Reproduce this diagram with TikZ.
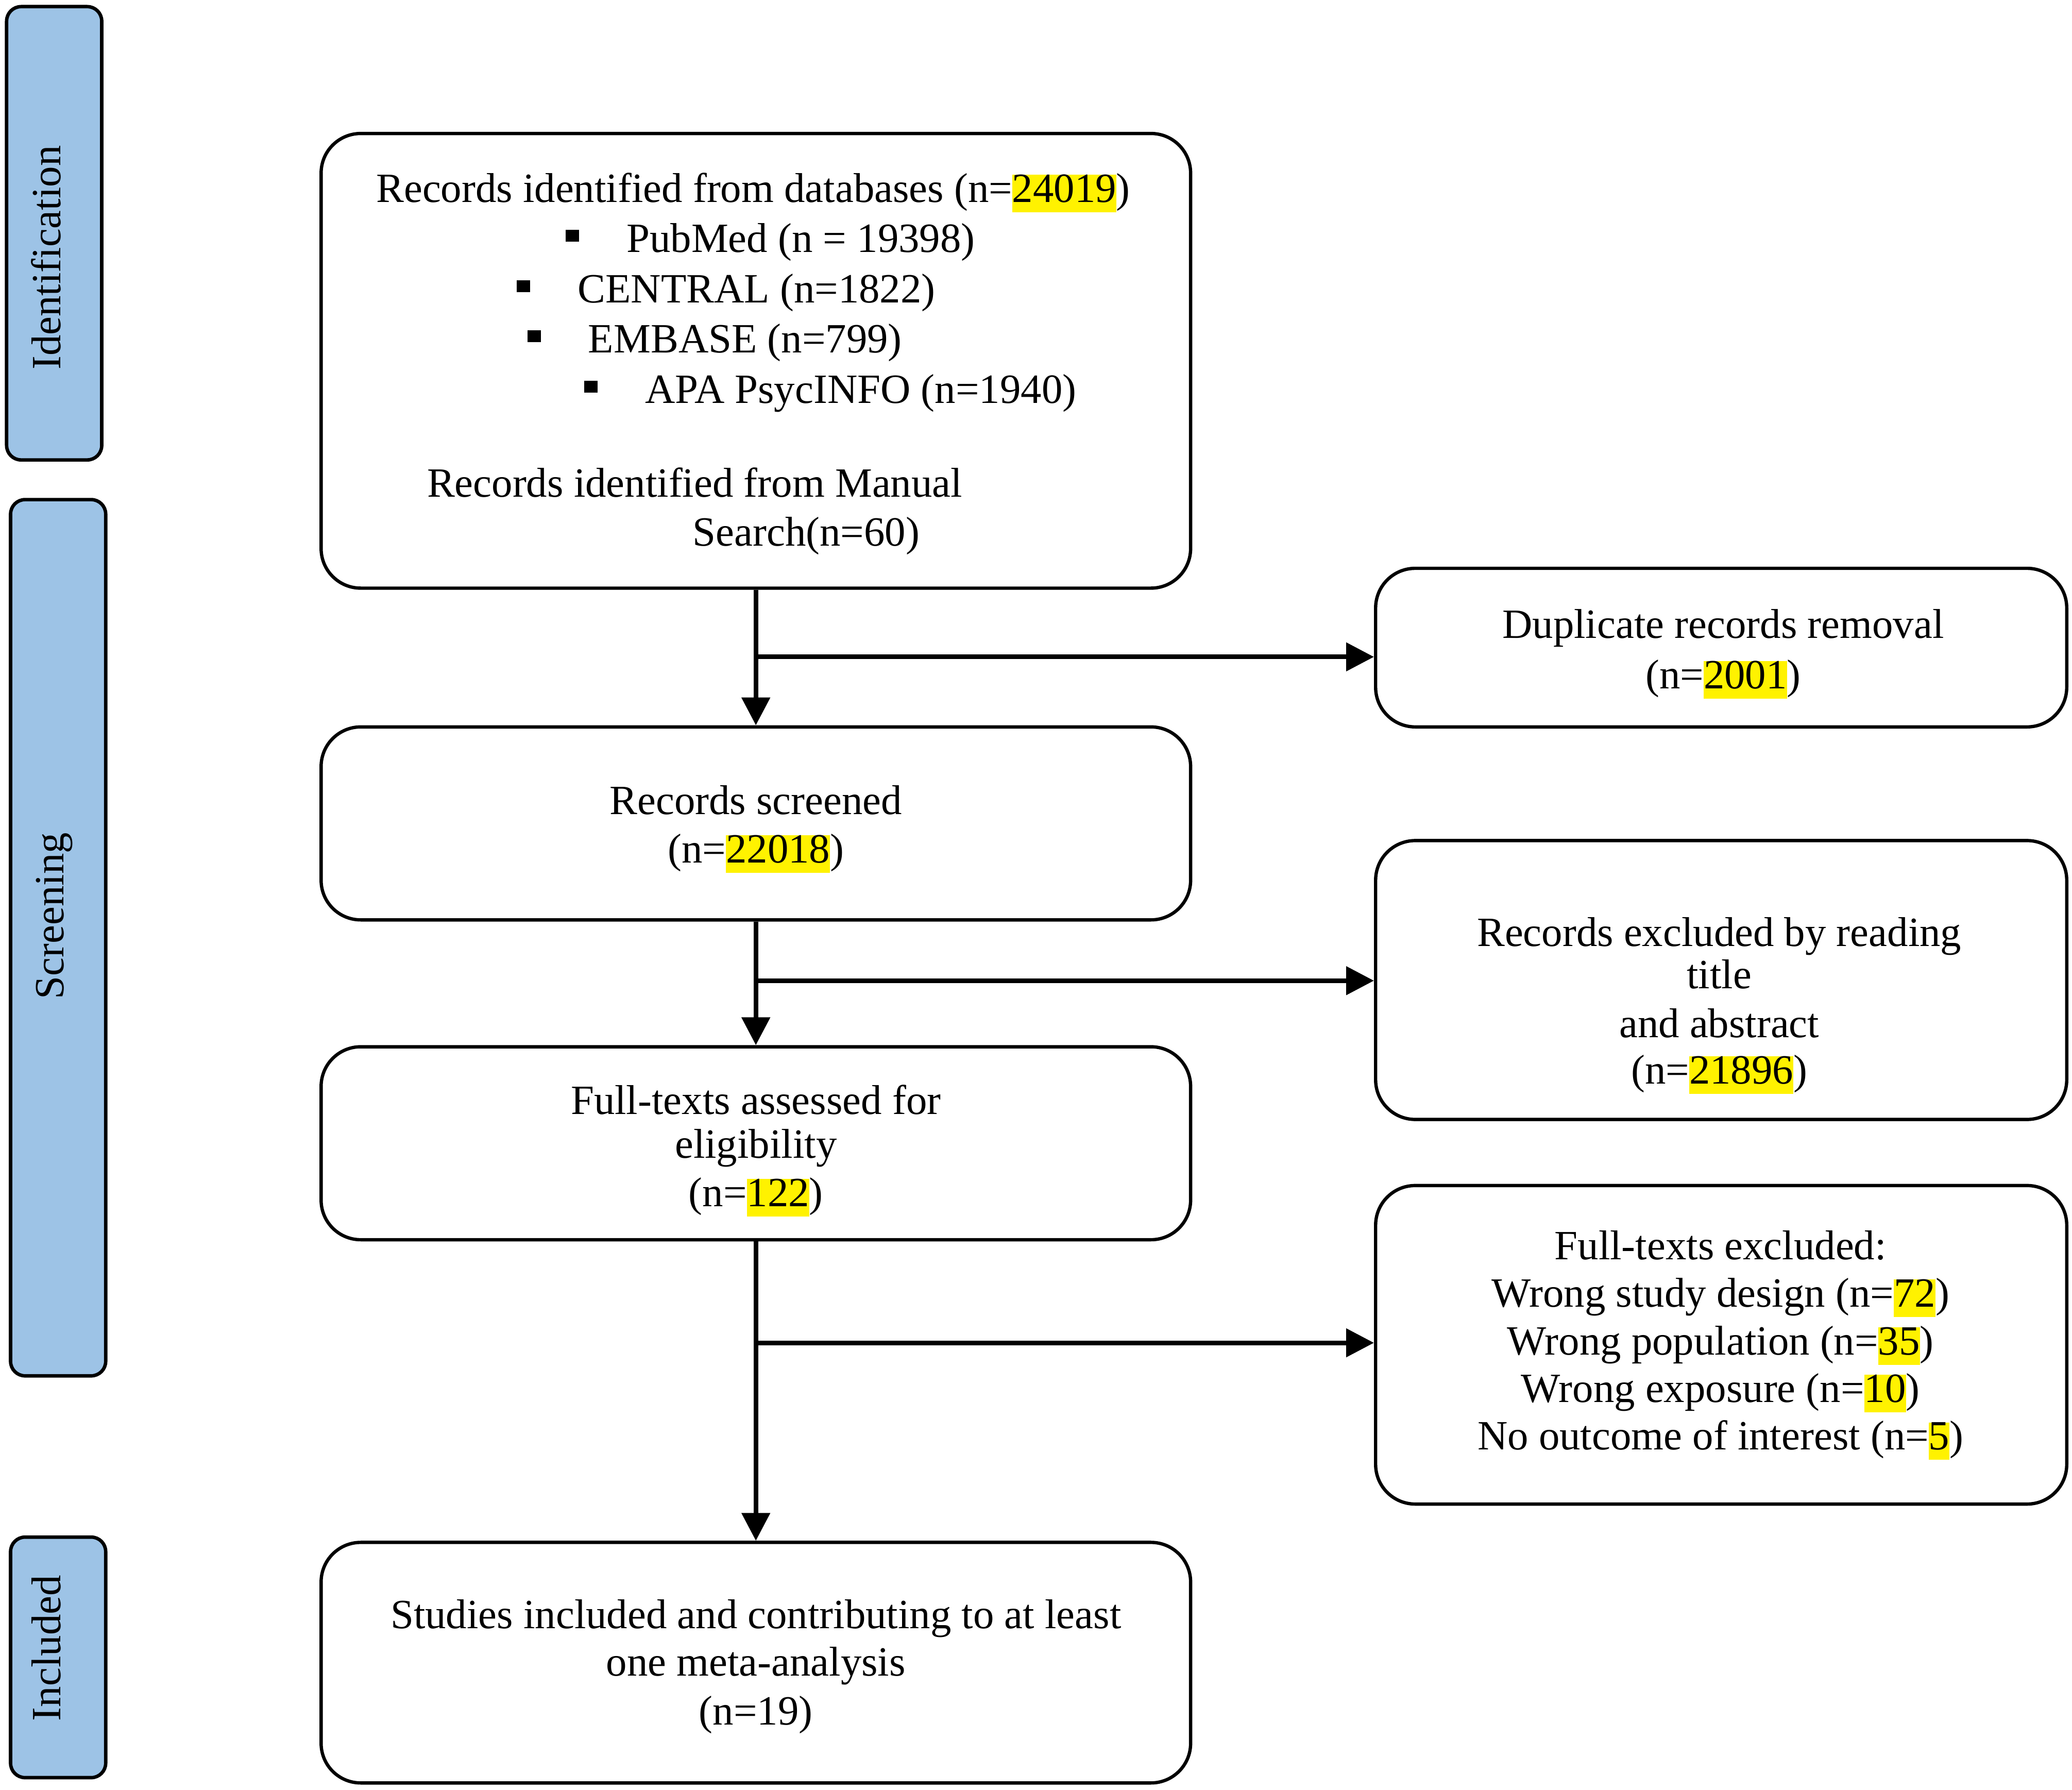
\documentclass[tikz,border=0pt]{standalone}
\usepackage{fontspec}
\setmainfont{Liberation Serif}
\usetikzlibrary{arrows.meta}
\definecolor{barblue}{RGB}{157,195,230}
\newcommand{\hlt}[1]{{\setlength{\fboxsep}{0pt}\colorbox{yellow}{\rule[-0.24em]{0pt}{0.88em}#1}}}
\newcommand{\sqb}{\raisebox{8pt}{\rule{10pt}{9pt}}}
\begin{document}
\begin{tikzpicture}[x=1pt,y=-1pt,
  font=\fontsize{31.5}{38}\selectfont,
  box/.style={draw, line width=2.5pt, rounded corners=30pt, inner sep=0pt},
  bar/.style={draw, fill=barblue, line width=2.6pt, rounded corners=11pt, inner sep=0pt, minimum width=72pt},
  txt/.style={inner sep=0pt, anchor=base},
  wtxt/.style={inner sep=0pt, anchor=base west},
  arr/.style={line width=3.5pt, -{Triangle[length=21pt,width=21pt]}}]
\useasboundingbox (0,0) rectangle (1568,1354);
% side bars
\node[bar, minimum height=343pt] (s1) at (41,176.5) {};
\node[bar, minimum height=663pt] (s2) at (44,709.5) {};
\node[bar, minimum height=182pt] (s3) at (44,1254) {};
\node[txt, rotate=90] (s1t) at (46,195) {Identification};
\node[txt, rotate=90] (s2t) at (48,693) {Screening};
\node[txt, rotate=90] (s3t) at (46,1247) {Included};
% main boxes
\node[box, minimum width=658pt, minimum height=344pt] (b1) at (572,273) {};
\node[box, minimum width=658pt, minimum height=146pt] (b2) at (572,623) {};
\node[box, minimum width=658pt, minimum height=146pt] (b3) at (572,865) {};
\node[box, minimum width=658pt, minimum height=182pt] (b4) at (572,1258) {};
\node[box, minimum width=523pt, minimum height=120pt] (d1) at (1302.5,490) {};
\node[box, minimum width=523pt, minimum height=211pt] (d2) at (1302.5,741.5) {};
\node[box, minimum width=523pt, minimum height=241pt] (d3) at (1302.5,1017.5) {};
% box 1 text
\node[txt] (t11) at (570,153) {Records identified from databases (n=\hlt{24019})};
\node[wtxt] (t12) at (428,191) {\sqb\hspace{36pt}PubMed (n = 19398)};
\node[wtxt] (t13) at (391,229) {\sqb\hspace{36pt}CENTRAL (n=1822)};
\node[wtxt] (t14) at (399,267) {\sqb\hspace{36pt}EMBASE (n=799)};
\node[wtxt] (t15) at (442,305) {\sqb\hspace{36pt}APA PsycINFO (n=1940)};
\node[wtxt] (t16) at (323,376) {Records identified from Manual};
\node[wtxt] (t17) at (524,413) {Search(n=60)};
% box 2
\node[txt] (t21) at (572,616) {Records screened};
\node[txt] (t22) at (572,653) {(n=\hlt{22018})};
% box 3
\node[txt] (t31) at (572,843) {Full-texts assessed for};
\node[txt] (t32) at (572,876) {eligibility};
\node[txt] (t33) at (572,913) {(n=\hlt{122})};
% box 4
\node[txt] (t41) at (572,1232) {Studies included and contributing to at least};
\node[txt] (t42) at (572,1268) {one meta-analysis};
\node[txt] (t43) at (572,1305) {(n=19)};
% right boxes
\node[txt] (u11) at (1304,483) {Duplicate records removal};
\node[txt] (u12) at (1304,521) {(n=\hlt{2001})};
\node[txt] (u21) at (1301,716) {Records excluded by reading};
\node[txt] (u22) at (1301,748) {title};
\node[txt] (u23) at (1301,785) {and abstract};
\node[txt] (u24) at (1301,820) {(n=\hlt{21896})};
\node[txt] (u31) at (1302,953) {Full-texts excluded:};
\node[txt] (u32) at (1302,989) {Wrong study design (n=\hlt{72})};
\node[txt] (u33) at (1302,1025) {Wrong population (n=\hlt{35})};
\node[txt] (u34) at (1302,1061) {Wrong exposure (n=\hlt{10})};
\node[txt] (u35) at (1302,1097) {No outcome of interest (n=\hlt{5})};
% connectors
\coordinate (j1) at (572,497);
\coordinate (j2) at (572,742);
\coordinate (j3) at (572,1016);
\draw[arr] (b1.south) -- (b2.north);
\draw[arr] (j1) -- (j1 -| d1.west);
\draw[arr] (b2.south) -- (b3.north);
\draw[arr] (j2) -- (j2 -| d2.west);
\draw[arr] (b3.south) -- (b4.north);
\draw[arr] (j3) -- (j3 -| d3.west);
\end{tikzpicture}
\end{document}
